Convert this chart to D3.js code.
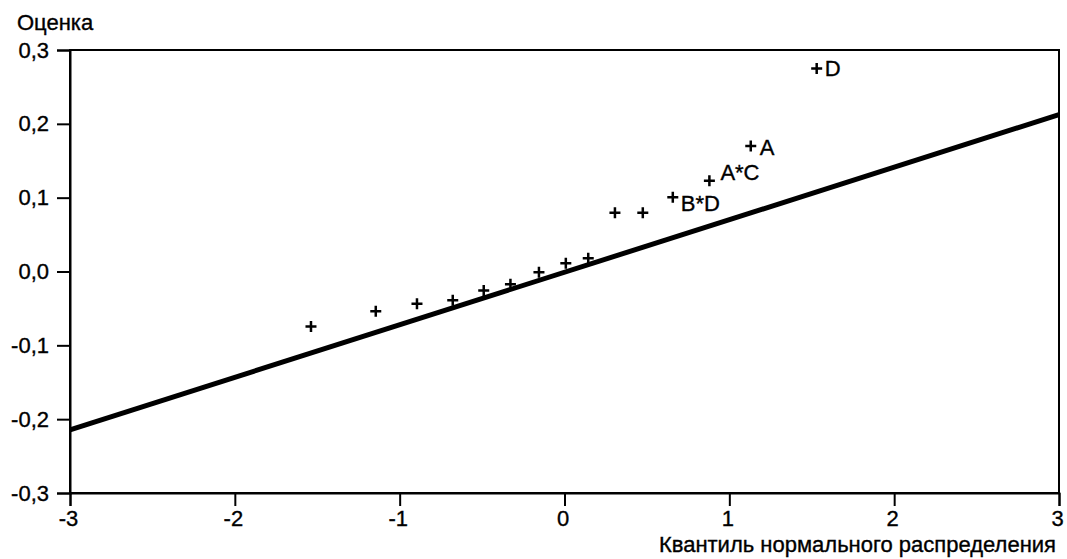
<!DOCTYPE html>
<html><head><meta charset="utf-8">
<script src="https://cdn.jsdelivr.net/npm/d3@7"></script>
<style>body{margin:0;background:#fff}text{font-family:"Liberation Sans",Arial,sans-serif;fill:#000;stroke:#000;stroke-width:0.35px}</style>
</head><body><svg id="c" width="1067" height="559"></svg>
<script>
const quantiles = [-1.538,-1.145,-0.895,-0.678,-0.490,-0.328,-0.155,0.008,0.144,0.306,0.475,0.657,0.879,1.130,1.530];
const effects   = [-0.0745,-0.0540,-0.0438,-0.0390,-0.0257,-0.0173,-0.0010,0.0112,0.0180,0.0796,0.0796,0.1005,0.1230,0.1700,0.2750];
const labels    = ["","","","","","","","","","","","B*D","A*C","A","D"];
const xTicks = [-3,-2,-1,0,1,2,3];
const yTicks = [-0.3,-0.2,-0.1,0,0.1,0.2,0.3];
const fitLine = [[-3,-0.2145],[3,0.2125]];
const yTitle = "Оценка";
const xTitle = "Квантиль нормального распределения";

const svg = d3.select("#c");
const L=70,R=1059,T=50,B=493;
const x = d3.scaleLinear().domain([-3,3]).range([L,R]);
const y = d3.scaleLinear().domain([-0.3,0.3]).range([B,T]);
const fmt = d=> d3.format(".1f")(d).replace(".",",").replace("−","-");
const fs = "22px";
const labelOffset = {"B*D":[8,6],"A*C":[11,-8],"A":[9,1],"D":[8,0]};

// frame
svg.append("rect").attr("x",L).attr("y",T).attr("width",R-L).attr("height",B-T)
  .attr("fill","none").attr("stroke","#000").attr("stroke-width",2);

const xa = svg.append("g").attr("transform",`translate(0,${B})`)
  .call(d3.axisBottom(x).tickValues(xTicks).tickSize(13).tickPadding(4).tickFormat(d=>String(d)));
const ya = svg.append("g").attr("transform",`translate(${L},0)`)
  .call(d3.axisLeft(y).tickValues(yTicks).tickSize(13).tickPadding(8).tickFormat(fmt));
[xa,ya].forEach(g=>{
  g.select(".domain").attr("stroke","#000").attr("stroke-width",2);
  g.selectAll(".tick line").attr("stroke","#000").attr("stroke-width",2);
  g.selectAll(".tick text").attr("font-size",fs).attr("font-family","Liberation Sans, Arial, sans-serif").attr("fill","#000");
});
xa.selectAll(".tick text").attr("dx","-2");

// fit line
svg.append("line").attr("x1",x(fitLine[0][0])).attr("y1",y(fitLine[0][1]))
  .attr("x2",x(fitLine[1][0])).attr("y2",y(fitLine[1][1]))
  .attr("stroke","#000").attr("stroke-width",5);

// points
const s=5.5;
const pts = svg.append("g").selectAll("g").data(quantiles.map((q,i)=>({q,e:effects[i],l:labels[i]}))).join("g")
  .attr("transform",d=>`translate(${x(d.q)},${y(d.e)})`);
pts.append("path").attr("d",`M${-s},0H${s}M0,${-s}V${s}`).attr("stroke","#000").attr("stroke-width",2.5);
pts.filter(d=>d.l).append("text").attr("x",d=>labelOffset[d.l][0]).attr("y",d=>labelOffset[d.l][1])
  .attr("dy","0.35em").attr("font-size",fs).text(d=>d.l);

svg.append("text").attr("x",17).attr("y",22).attr("dy","0.35em").attr("font-size",fs).text(yTitle);
svg.append("text").attr("x",1056).attr("y",544).attr("dy","0.35em").attr("text-anchor","end").attr("font-size",fs).text(xTitle);
</script></body></html>
